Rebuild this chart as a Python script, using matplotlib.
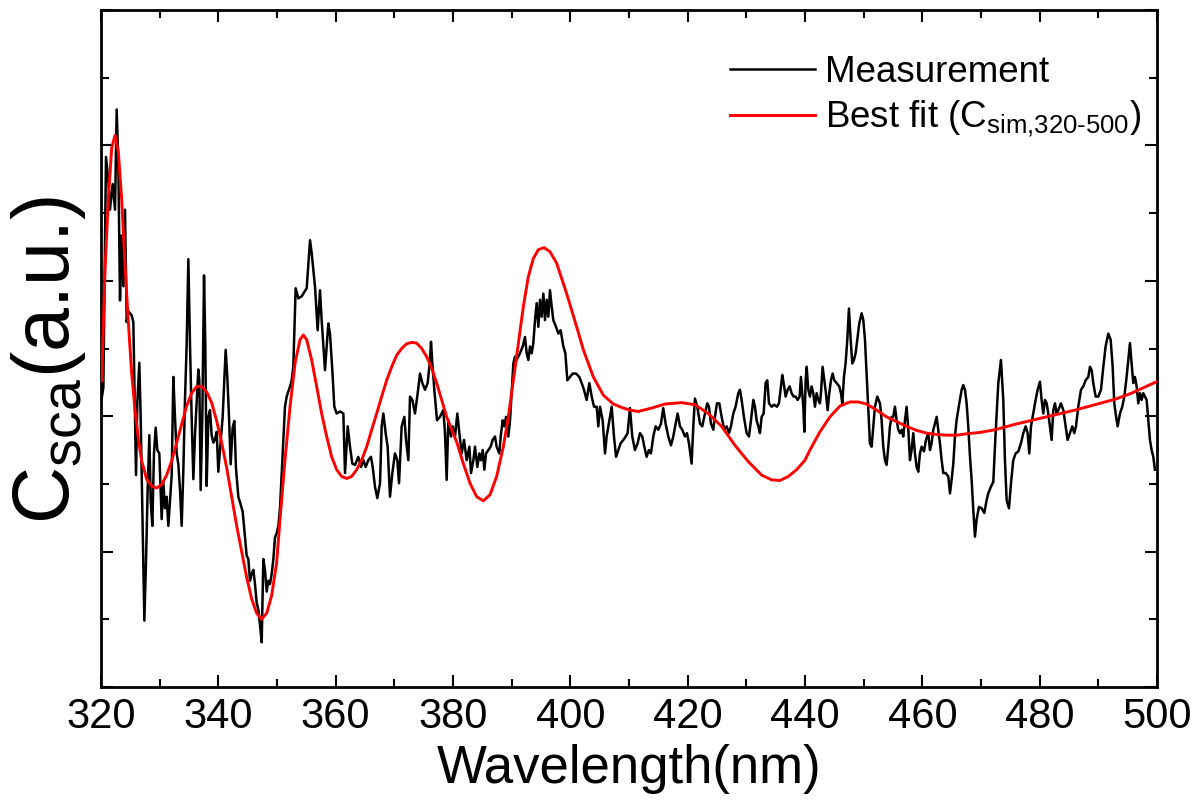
import matplotlib
matplotlib.use("Agg")
import matplotlib.pyplot as plt
from matplotlib.ticker import MultipleLocator, NullFormatter

plt.rcParams['font.family'] = ['Liberation Sans', 'DejaVu Sans']
plt.rcParams['mathtext.fontset'] = 'custom'
plt.rcParams['mathtext.rm'] = 'Liberation Sans'
plt.rcParams['mathtext.it'] = 'Liberation Sans:italic'
plt.rcParams['mathtext.bf'] = 'Liberation Sans:bold'

# ---------------- data ----------------
meas_wl = [
    320.11, 320.40, 320.85, 321.25, 321.53, 321.99, 322.39, 322.67, 322.95, 323.24,
    323.52, 323.81, 324.09, 324.38, 324.66, 325.23, 325.51, 325.97, 326.19, 326.53,
    326.76, 327.10, 327.39, 327.67, 327.95, 328.24, 328.47, 328.75, 329.03, 329.32,
    329.60, 329.94, 330.34, 330.63, 330.91, 331.19, 331.48, 331.76, 332.05, 332.33,
    332.61, 332.90, 333.18, 333.47, 333.75, 334.03, 334.32, 334.60, 334.89, 335.17,
    335.45, 335.74, 336.02, 336.31, 336.59, 336.76, 336.99, 337.27, 337.56, 337.78,
    338.01, 338.30, 338.58, 338.86, 339.15, 339.43, 339.72, 340.00, 340.28, 340.74,
    341.02, 341.25, 341.53, 341.82, 342.10, 342.44, 342.73, 343.01, 343.41, 343.69,
    344.15, 344.55, 344.83, 345.11, 345.40, 345.68, 345.97, 346.25, 346.53, 346.82,
    347.10, 347.39, 347.67, 347.95, 348.24, 348.52, 348.81, 349.09, 349.38, 349.66,
    349.94, 350.23, 350.51,
    351.36, 351.65, 352.22, 352.50, 352.78, 353.18, 353.64, 354.20, 355.06, 355.63,
    355.91, 356.48, 356.93, 357.33, 357.61, 358.18, 358.75, 359.03, 359.43, 359.77,
    360.17, 360.74, 361.31, 361.59, 362.05, 362.44, 362.84, 363.30, 363.86, 364.32,
    364.72, 365.11, 365.57, 366.02, 366.31, 366.70, 367.10, 367.56, 367.84, 368.13,
    368.52, 368.86, 369.26, 369.66, 370.11, 370.51, 370.80, 371.25, 371.71, 371.99,
    372.39, 372.67, 373.07, 373.52, 373.98, 374.38, 374.77, 375.23, 375.68, 376.08,
    376.25, 376.48, 376.82, 377.27, 377.78, 378.35, 378.64, 378.92, 379.21, 379.66,
    379.94, 380.34, 380.74, 381.08, 381.48, 381.88, 382.33, 382.79, 383.07, 383.47,
    383.75, 384.15, 384.49, 384.77, 385.06, 385.34, 385.63, 386.02, 386.42, 386.76,
    387.16, 387.44, 387.90, 388.13, 388.47, 388.75, 389.04, 389.43, 389.72, 390.00,
    390.29, 390.57, 390.85, 391.42, 391.88, 392.27, 392.56, 392.84, 393.13, 393.41,
    393.69, 393.98, 394.26, 394.55, 394.83, 395.11, 395.40, 395.68, 395.97, 396.25,
    396.53, 396.82, 397.10, 397.56, 397.96, 398.35, 398.81, 399.15, 399.49, 399.94,
    400.40, 400.97, 401.53, 401.93, 402.33, 402.78, 403.24, 403.64, 404.04, 404.49,
    404.77, 405.06, 405.51, 405.91, 406.19, 406.65, 407.05, 407.44, 407.79, 408.18,
    408.58, 409.04, 409.43,
    409.76, 410.16, 410.56, 411.01, 411.47, 411.87, 412.26, 412.61, 413.00, 413.40,
    413.74, 414.14, 414.54, 414.99, 415.45, 415.84, 416.24, 416.70, 417.15, 417.55,
    417.95, 418.29, 418.69, 419.08, 419.54, 419.88, 420.22, 420.67, 420.96, 421.24,
    421.64, 422.10, 422.49, 422.95, 423.34, 423.63, 423.97, 424.37, 424.65, 424.99,
    425.39, 425.79, 426.24, 426.64, 427.04, 427.38, 427.78, 428.17, 428.63, 428.91,
    429.20, 429.59, 430.05, 430.45, 430.79, 431.19, 431.47, 431.75, 432.04, 432.32,
    432.61, 432.95, 433.29, 433.57, 433.86, 434.31, 434.76, 435.22, 435.56, 435.90,
    436.13, 436.36, 436.70, 437.04, 437.38, 437.72, 438.06, 438.40, 438.74, 439.08,
    439.31,
    439.71, 439.88, 440.11, 440.28, 440.56, 440.84, 441.13, 441.41, 441.70, 441.98,
    442.27, 442.55, 442.72, 443.00, 443.29, 443.57, 443.86, 444.14, 444.42, 444.71,
    444.99, 445.39, 445.84, 446.13, 446.36, 446.64, 446.92, 447.21, 447.49, 447.78,
    448.06, 448.34, 448.63, 448.91, 449.25, 449.65, 449.94, 450.22, 450.50, 450.79,
    451.07, 451.36, 451.64, 451.92, 452.32, 452.78, 453.06, 453.34, 453.63, 453.91,
    454.20, 454.48, 454.77, 455.05, 455.33, 455.62, 455.90, 456.19, 456.47, 456.75,
    457.04, 457.32, 457.61, 457.89, 458.17, 458.46, 458.74, 459.03, 459.31, 459.59,
    459.88, 460.28, 460.62, 461.01, 461.30, 461.58, 461.87, 462.15, 462.44, 462.72,
    463.00, 463.29, 463.57, 463.97, 464.42, 464.71, 464.99, 465.28, 465.56, 465.84,
    466.30, 466.70, 466.98, 467.27, 467.55, 467.83, 468.12, 468.40, 468.69, 468.97,
    469.25, 469.65, 470.11, 470.56, 470.96, 471.24, 471.70, 472.10, 472.49, 472.95,
    473.40, 473.80, 474.08, 474.37, 474.77, 475.11, 475.50, 475.90, 476.36, 476.81,
    477.21, 477.61, 477.95, 478.23, 478.52, 478.91, 479.31, 479.65, 480.05, 480.33,
    480.62, 480.90, 481.19, 481.47, 481.75, 482.04, 482.32, 482.61, 482.89, 483.17,
    483.63, 484.03, 484.42, 484.76, 485.16, 485.56, 485.90, 486.19, 486.58, 487.04,
    487.44, 487.83, 488.29, 488.57, 488.86, 489.14, 489.54, 489.99, 490.45, 490.85,
    491.24, 491.70, 492.10, 492.44, 492.72, 492.95, 493.29, 493.69, 494.08, 494.43,
    494.82, 495.11, 495.39, 495.67, 495.96, 496.24, 496.53, 496.81, 497.10, 497.38,
    497.66, 497.95, 498.23, 498.52, 498.80, 499.08, 499.37, 499.65,
]
meas_val = [
    4.26, 4.42, 7.83, 7.48, 7.05, 7.43, 7.05, 8.53, 7.75, 5.71,
    6.67, 5.92, 7.05, 5.39, 5.55, 5.49, 5.39, 3.13, 4.20, 4.79,
    3.99, 2.38, 0.98, 1.84, 2.91, 3.72, 2.75, 2.38, 3.45, 3.83,
    3.50, 3.45, 2.48, 3.02, 2.64, 2.81, 2.38, 2.75, 3.13, 4.58,
    3.99, 3.45, 3.29, 2.91, 2.38, 3.18, 4.26, 5.06, 6.32, 5.06,
    3.99, 3.07, 3.72, 4.20, 4.69, 4.53, 2.91, 3.99, 6.08, 5.06,
    2.97, 3.99, 4.09, 3.72, 3.61, 3.66, 3.77, 3.18, 3.50, 3.99,
    4.53, 4.98, 4.58, 3.99, 3.29, 3.83, 3.93, 3.23, 2.81, 2.73,
    2.59, 2.21, 1.94, 1.89, 1.57, 1.67, 1.73, 1.52, 1.25, 1.14,
    0.92, 0.66, 1.89, 1.73, 1.41, 1.57, 1.52, 1.67, 1.89, 2.21,
    2.27, 2.38, 2.64,
    4.14, 4.29, 4.44, 4.53, 4.73, 5.89, 5.74, 5.77, 5.89, 6.60,
    6.41, 5.91, 5.27, 5.86, 5.42, 4.68, 5.37, 5.22, 4.68, 4.14,
    4.04, 4.07, 4.04, 3.16, 3.85, 3.55, 3.30, 3.28, 3.40, 3.25,
    3.35, 3.25, 3.35, 3.40, 3.25, 2.96, 2.79, 3.01, 3.85, 4.04,
    3.75, 3.55, 2.81, 3.16, 3.45, 3.35, 3.01, 3.85, 3.99, 3.65,
    3.35, 4.29, 4.24, 4.04, 4.34, 4.63, 4.49, 4.39, 4.49, 4.83,
    5.10, 4.78, 4.39, 3.94, 3.99, 4.09, 3.75, 3.06, 3.94, 3.70,
    3.85, 3.70, 4.04, 3.75, 3.45, 3.65, 3.35, 3.55, 3.16, 3.35,
    3.55, 3.25, 3.45, 3.35, 3.50, 3.21, 3.45, 3.50, 3.55, 3.65,
    3.70, 3.55, 3.45, 3.70, 3.94, 3.85, 3.99, 3.70, 3.94, 4.34,
    4.78, 4.88, 4.83, 4.93, 5.03, 5.17, 4.93, 4.83, 5.03, 4.93,
    5.08, 5.42, 5.67, 5.32, 5.72, 5.47, 5.81, 5.42, 5.72, 5.47,
    5.86, 5.62, 5.42, 5.32, 5.22, 5.27, 5.03, 4.93, 4.53, 4.58,
    4.63, 4.63, 4.58, 4.49, 4.39, 4.24, 4.49, 4.29, 4.14, 4.14,
    3.85, 4.14, 3.94, 3.45, 3.70, 3.94, 4.14, 3.70, 3.40, 3.50,
    3.60, 3.65, 3.70,
    3.75, 4.12, 3.70, 3.50, 3.60, 3.75, 3.70, 3.55, 3.40, 3.50,
    3.45, 3.70, 3.85, 3.80, 3.89, 4.12, 3.89, 3.70, 3.57, 3.70,
    3.89, 4.04, 3.85, 3.80, 3.70, 3.75, 3.60, 3.30, 3.85, 4.26,
    4.14, 3.89, 3.85, 4.04, 4.19, 4.14, 3.89, 3.80, 3.99, 4.19,
    4.19, 3.99, 3.80, 3.85, 3.75, 3.85, 4.04, 4.14, 4.34, 4.39,
    4.24, 3.99, 3.75, 3.70, 3.94, 4.24, 4.14, 3.94, 3.85, 3.75,
    3.99, 4.04, 4.49, 4.53, 4.19, 4.14, 4.17, 4.14, 4.19, 4.44,
    4.61, 4.49, 4.29, 4.39, 4.44, 4.34, 4.29, 4.29, 4.24, 4.29,
    4.58,
    4.14, 3.77, 4.53, 4.73, 4.39, 4.29, 4.44, 4.34, 4.14, 4.34,
    4.24, 4.19, 4.34, 4.73, 4.53, 4.34, 4.09, 4.34, 4.53, 4.63,
    4.53, 4.49, 4.44, 4.34, 4.19, 4.58, 4.78, 5.13, 5.59, 5.13,
    4.78, 4.83, 4.93, 5.13, 5.37, 5.52, 5.42, 5.13, 4.63, 4.14,
    3.60, 3.55, 3.85, 4.14, 4.29, 4.19, 3.94, 3.55, 3.35, 3.28,
    3.55, 3.85, 3.99, 3.99, 4.14, 3.94, 3.80, 3.75, 3.80, 3.70,
    3.94, 4.14, 3.80, 3.35, 3.50, 3.75, 3.45, 3.25, 3.18, 3.45,
    3.55, 3.48, 3.65, 3.75, 3.50, 3.60, 3.80, 3.89, 3.99, 3.80,
    3.60, 3.35, 3.16, 3.16, 3.11, 2.86, 3.06, 3.30, 3.70, 3.94,
    4.19, 4.39, 4.46, 4.39, 4.19, 3.85, 3.40, 3.06, 2.61, 2.22,
    2.47, 2.66, 2.64, 2.57, 2.76, 2.86, 2.96, 3.03, 3.75, 4.49,
    4.83, 4.24, 3.35, 2.76, 2.64, 3.01, 3.35, 3.45, 3.48, 3.60,
    3.75, 3.85, 3.75, 3.45, 3.85, 4.04, 4.24, 4.39, 4.51, 4.24,
    4.04, 4.24, 4.19, 4.04, 3.85, 3.65, 4.09, 4.19, 4.04, 4.09,
    4.19, 4.09, 3.85, 3.65, 3.75, 3.85, 3.75, 3.85, 4.14, 4.39,
    4.44, 4.53, 4.58, 4.73, 4.68, 4.49, 4.29, 4.29, 4.39, 4.73,
    5.03, 5.22, 5.13, 4.73, 4.19, 4.04, 3.85, 4.04, 4.14, 4.29,
    4.58, 4.83, 5.08, 4.78, 4.49, 4.58, 4.44, 4.19, 4.34, 4.24,
    4.34, 4.29, 4.24, 3.94, 3.65, 3.50, 3.40, 3.21,
]

fit_wl = [
    320.11, 320.68, 321.25, 321.82, 322.39, 322.95, 323.52, 324.09, 324.66, 325.23,
    325.80, 326.36, 326.93, 327.78, 328.64, 329.49, 330.34, 331.19, 332.05, 332.90,
    333.75, 334.60, 335.45, 336.31, 337.16, 338.01, 338.86, 339.72, 340.57, 341.42,
    342.27, 343.13, 343.98, 344.83, 345.68, 346.53, 347.39, 348.24, 349.09, 349.94,
    350.51, 351.36, 352.22, 353.07, 353.92, 354.49, 355.06, 355.91, 356.76, 357.61,
    358.47, 359.32, 360.17, 361.02, 361.88, 362.73, 363.58, 364.43, 365.29, 366.14,
    366.99, 367.84, 368.69, 369.55, 370.40, 371.25, 372.10, 372.96, 373.81, 374.66,
    375.51, 376.36, 377.22, 378.07, 378.92, 379.77, 380.63, 381.76, 382.90, 384.04,
    385.17, 386.31, 387.44, 388.58, 389.43, 390.29, 391.14, 391.99, 392.84, 393.69,
    394.55, 395.51, 396.53, 397.67, 399.38, 401.08, 402.22, 403.92, 405.63, 407.33,
    409.04, 410.17, 411.58, 413.86, 416.13, 418.97, 421.24, 423.51, 425.79, 428.06,
    430.33, 432.61, 434.31, 435.73, 437.15, 438.57, 439.99, 440.84, 442.55, 444.25,
    445.96, 447.66, 449.08, 450.50, 452.21, 453.91, 455.62, 457.32, 459.03, 460.73,
    462.44, 464.14, 465.84, 467.55, 469.82, 472.38, 475.79, 479.20, 482.61, 486.02,
    489.42, 492.83, 495.67, 497.95, 499.94,
]
fit_val = [
    4.52, 6.14, 7.21, 7.96, 8.15, 7.91, 7.21, 6.24, 5.39, 4.63,
    4.09, 3.67, 3.34, 3.07, 2.97, 2.94, 2.99, 3.13, 3.34, 3.61,
    3.88, 4.15, 4.34, 4.44, 4.44, 4.36, 4.20, 3.93, 3.61, 3.24,
    2.81, 2.38, 2.00, 1.62, 1.30, 1.09, 1.00, 1.09, 1.35, 1.84,
    2.47, 3.35, 4.14, 4.78, 5.13, 5.20, 5.13, 4.83, 4.44, 4.04,
    3.70, 3.40, 3.21, 3.11, 3.08, 3.11, 3.21, 3.35, 3.55, 3.80,
    4.04, 4.29, 4.53, 4.73, 4.90, 5.00, 5.07, 5.09, 5.08, 5.00,
    4.88, 4.71, 4.49, 4.24, 3.99, 3.80, 3.62, 3.30, 3.01, 2.81,
    2.75, 2.84, 3.11, 3.55, 3.99, 4.53, 5.08, 5.62, 6.06, 6.33,
    6.46, 6.49, 6.43, 6.26, 5.81, 5.32, 4.98, 4.58, 4.31, 4.18,
    4.12, 4.09, 4.07, 4.12, 4.18, 4.20, 4.17, 4.04, 3.85, 3.57,
    3.33, 3.13, 3.06, 3.05, 3.11, 3.21, 3.35, 3.50, 3.77, 3.99,
    4.15, 4.21, 4.21, 4.18, 4.09, 3.99, 3.92, 3.85, 3.79, 3.75,
    3.73, 3.72, 3.72, 3.74, 3.76, 3.80, 3.88, 3.95, 4.02, 4.09,
    4.17, 4.25, 4.34, 4.43, 4.51,
]

x_ticks = [320, 340, 360, 380, 400, 420, 440, 460, 480, 500]
x_label = 'Wavelength(nm)'
y_label = r'C$_{\text{sca}}$(a.u.)'
legend_labels = ['Measurement', r'Best fit (C$_{\text{sim,320-500}}$)']

# ---------------- figure ----------------
fig = plt.figure(figsize=(12.02, 8.0), dpi=100)
ax = fig.add_axes([101 / 1202, 113 / 800, 1056 / 1202, 677 / 800])

ax.plot(meas_wl, meas_val, color='black', lw=1.8, label=legend_labels[0], zorder=2)
ax.plot(fit_wl, fit_val, color='#ff0000', lw=2.1, label=legend_labels[1], zorder=3)

ax.set_xlim(320, 500)
ax.set_ylim(0, 10)
ax.set_xticks(x_ticks)
ax.xaxis.set_minor_locator(MultipleLocator(10))
ax.yaxis.set_major_locator(MultipleLocator(2))
ax.yaxis.set_minor_locator(MultipleLocator(1))
ax.yaxis.set_major_formatter(NullFormatter())

ax.tick_params(which='both', direction='in', top=True, right=True,
               left=True, bottom=True, width=1.5, labelleft=False)
ax.tick_params(which='major', length=8.5)
ax.tick_params(which='minor', length=5.5)
ax.tick_params(axis='x', which='major', labelsize=30, pad=7)
for s in ax.spines.values():
    s.set_linewidth(2.0)

ax.set_xlabel(x_label, fontsize=38, labelpad=5)
ax.set_ylabel(y_label, fontsize=57, labelpad=9)
ax.yaxis.label.set_y(0.483)

leg = ax.legend(loc='upper left', bbox_to_anchor=(0.5956, 0.933), frameon=False,
                fontsize=26.5, handlelength=2.3, handletextpad=0.27,
                borderpad=0, borderaxespad=0, labelspacing=0.22)

fig.savefig('out.png', dpi=100)
